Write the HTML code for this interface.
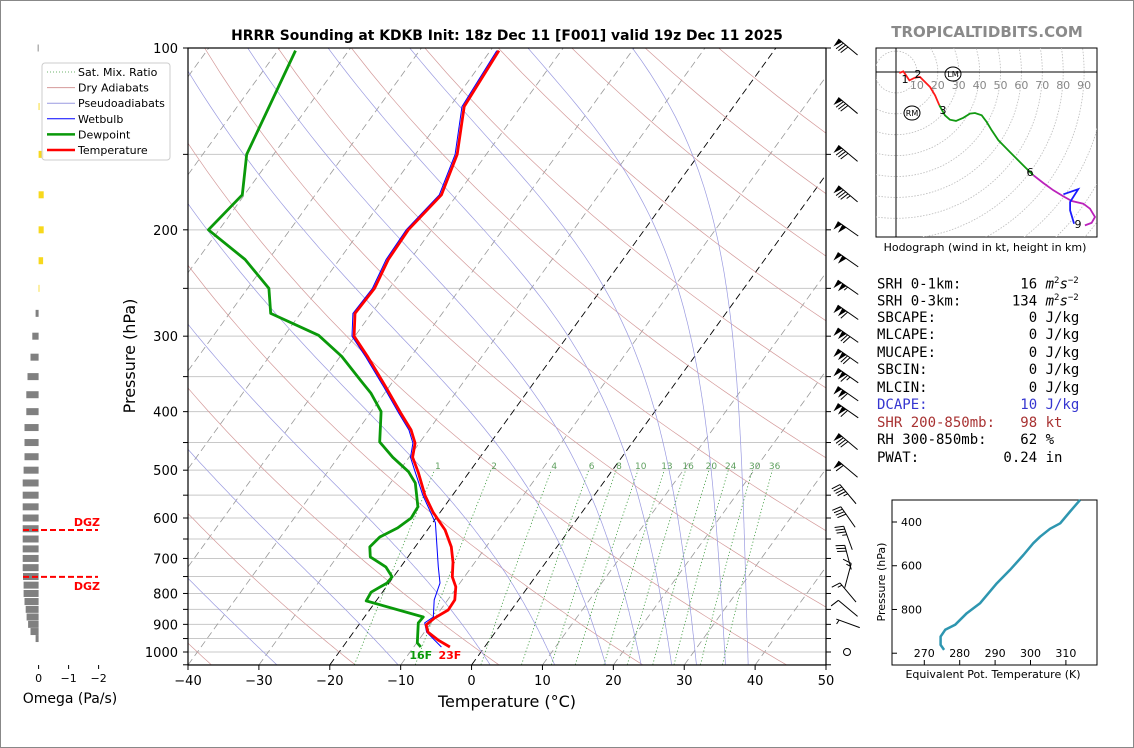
<!DOCTYPE html>
<html><head><meta charset="utf-8">
<style>
html,body{margin:0;padding:0;background:#fff;}
body{width:1134px;height:748px;overflow:hidden;position:relative;}
#frame{position:absolute;left:0;top:0;width:1132px;height:746px;border:1px solid #888;}
svg{position:absolute;left:0;top:0;}
.stats{position:absolute;left:877px;font-family:"DejaVu Sans Mono","Liberation Mono",monospace;font-size:14px;white-space:pre;color:#000;line-height:16px;}
</style></head>
<body>
<div id="frame"></div>
<svg id="chart" width="1134" height="748" viewBox="0 0 1134 748" font-family="'DejaVu Sans','Liberation Sans',sans-serif">
 <defs>
  <clipPath id="mainclip"><rect x="188" y="48" width="638" height="617"/></clipPath>
  <clipPath id="hodoclip"><rect x="876" y="48" width="221" height="189"/></clipPath>
 </defs>
 <text x="507" y="40" text-anchor="middle" font-size="13.9" font-weight="bold">HRRR Sounding at KDKB Init: 18z Dec 11 [F001] valid 19z Dec 11 2025</text>
 <text x="987" y="37" text-anchor="middle" font-size="15" font-weight="bold" fill="#8a8a8a">TROPICALTIDBITS.COM</text>
 <text x="507" y="707" text-anchor="middle" font-size="16">Temperature (°C)</text>
 <text x="135" y="356" text-anchor="middle" font-size="16" transform="rotate(-90 135 356)">Pressure (hPa)</text>
 <text x="70" y="703" text-anchor="middle" font-size="14">Omega (Pa/s)</text>
 <g id="bg" clip-path="url(#mainclip)"></g>
 <g id="profiles" clip-path="url(#mainclip)"></g>
 <g id="axes"></g>
 <g id="omega"></g>
 <g id="barbs"></g>
 <g id="hodo"></g>
 <g id="thetae"></g>
 <g id="legend"></g>
</svg>
<div class="stats" style="top:273px">SRH 0-1km:       16 <i>m</i><sup style="font-size:9px">2</sup><i>s</i><sup style="font-size:9px">−2</sup></div>
<div class="stats" style="top:290px">SRH 0-3km:      134 <i>m</i><sup style="font-size:9px">2</sup><i>s</i><sup style="font-size:9px">−2</sup></div>
<div class="stats" style="top:310px">SBCAPE:           0 J/kg</div>
<div class="stats" style="top:327px">MLCAPE:           0 J/kg</div>
<div class="stats" style="top:345px">MUCAPE:           0 J/kg</div>
<div class="stats" style="top:362px">SBCIN:            0 J/kg</div>
<div class="stats" style="top:380px">MLCIN:            0 J/kg</div>
<div class="stats" style="top:397px;color:#3636d0">DCAPE:           10 J/kg</div>
<div class="stats" style="top:415px;color:#a83232">SHR 200-850mb:   98 kt</div>
<div class="stats" style="top:432px">RH 300-850mb:    62 %</div>
<div class="stats" style="top:450px">PWAT:          0.24 in</div>
<script>
// ---------- data ----------
const tempP=[101,125,150,175,200,224,250,275,300,325,366,402,429,451,476,505,550,587,628,670,710,751,780,820,852,878,902,927,955,981];
const tempT=[-58.8,-58.0,-54.1,-52.2,-53.3,-53.1,-52.1,-52.3,-50.1,-46.0,-40.2,-35.7,-32.5,-30.6,-29.5,-27.1,-23.9,-21.0,-17.5,-14.9,-13.1,-11.7,-10.2,-9.0,-8.9,-10.0,-10.5,-9.5,-7.3,-4.9];
const dewP=[101,150,175,200,224,250,275,299,324,355,373,400,449,476,503,525,575,600,623,645,670,696,723,751,769,796,823,875,895,966,981];
const dewT=[-87.5,-83.8,-80.3,-81.5,-73.3,-67.0,-64.2,-55.2,-49.8,-44.7,-41.9,-38.6,-35.7,-32.3,-28.6,-26.5,-23.7,-23.5,-24.4,-26.0,-26.4,-25.3,-22.1,-20.2,-20.3,-21.6,-21.4,-11.7,-11.8,-9.9,-9.0];
const wbP=[101,125,150,175,200,224,250,275,300,325,366,402,429,451,476,500,550,611,723,769,820,875,895,927,981];
const wbT=[-59.1,-58.3,-54.4,-52.5,-53.6,-53.4,-52.4,-52.6,-50.4,-46.3,-40.5,-36.0,-32.8,-30.9,-29.8,-27.9,-24.2,-19.6,-14.7,-12.8,-11.9,-10.3,-10.9,-9.7,-6.1];
const xTicks=[-40,-30,-20,-10,0,10,20,30,40,50];
const pLabels=[100,200,300,400,500,600,700,800,900,1000];
const dryT0=[-120,-100,-80,-60,-40,-20,0,20,40,60,80,100,120,140,160,180,200];
const moistT0=[-27.5,-10.4,2.6,11.7,18.9,23.9,28.2,31.7,35.8,39];
const mixW=[1,2,4,6,8,10,13,16,20,24,30,36];
const omegaP=[100,125,150,175,200,225,250,275,300,325,350,375,400,425,450,475,500,525,550,575,600,625,650,675,700,725,750,775,800,825,850,875,900,925,950];
const omegaV=[0.03,-0.03,-0.17,-0.17,-0.17,-0.15,-0.02,0.1,0.21,0.27,0.37,0.41,0.41,0.47,0.47,0.47,0.5,0.53,0.53,0.53,0.53,0.53,0.53,0.53,0.53,0.53,0.52,0.5,0.5,0.47,0.43,0.4,0.35,0.27,0.1];
const omegaTicks=[0,-1,-2];
const dgzP=[628,751];
const barbP=[100,125,150,175,200,225,250,275,300,325,350,375,400,450,500,550,600,650,700,750,800,850,900];
const barbDir=[310,310,310,310,305,305,305,305,305,305,305,305,305,310,310,320,325,340,345,15,320,310,290];
const barbSpd=[80,80,80,85,100,100,105,110,120,120,115,110,110,80,60,45,40,35,30,15,15,10,5];
const hodoRedU=[1.6,3.5,6.4,9.1,11.5,13.1,16.3,18.7,20.7];
const hodoRedV=[-0.5,0.3,-4.0,-2.7,-2.4,-4.0,-7.2,-11.2,-15.9];
const hodoGreenU=[20.7,23.4,25.8,28.7,32.2,35.4,37.8,41.0,43.4,45.8,49.0,54.5,61.7,65.7];
const hodoGreenV=[-15.9,-20.7,-22.8,-23.4,-21.9,-19.9,-19.6,-20.7,-23.9,-27.9,-32.7,-38.3,-45.5,-49.4];
const hodoMagU=[65.7,70.5,75.3,80.1,84.1,89.6,92.8,95.2,93.6,90.4];
const hodoMagV=[-49.4,-53.1,-56.6,-59.5,-61.7,-63.0,-65.4,-69.4,-72.2,-73.4];
const hodoBlueU=[80.1,87.2,83.3,83.3,85.2];
const hodoBlueV=[-58.5,-56.1,-62.2,-66.2,-72.6];
const hodoRings=[10,20,30,40,50,60,70,80,90,100,110,120];
const thetaeP=[299,352,406,431,467,497,551,619,680,771,817,870,893,924,962,985];
const thetaeV=[314.0,311.2,308.4,305.5,302.7,300.8,298.0,294.2,290.5,285.8,282.0,278.7,275.9,274.6,274.6,275.6];
const thetaeXTicks=[270,280,290,300,310];
const thetaeYTicks=[400,600,800,1000];

// ---------- helpers ----------
const NS='http://www.w3.org/2000/svg';
function mk(tag,attrs,parent){const e=document.createElementNS(NS,tag);for(const k in attrs)e.setAttribute(k,attrs[k]);parent.appendChild(e);return e;}
function py(p){return 48+604*Math.log10(p/100);}
function tx(T,p){return 188+(T+40)*7.089+(665-py(p))*0.723;}
function pts(P,T){return P.map((p,i)=>tx(T[i],p).toFixed(1)+','+py(p).toFixed(1)).join(' ');}
const bg=document.getElementById('bg');
const prof=document.getElementById('profiles');
const axes=document.getElementById('axes');

for(let p=100;p<=1050;p+=50){
  const l=mk('line',{x1:188,x2:826,y1:py(p),y2:py(p),stroke:'#c8c8c8','stroke-width':1},bg);
  
  
}
for(let t=-130;t<=50;t+=10){
  const l=mk('line',{x1:tx(t,1050),y1:py(1050),x2:tx(t,100),y2:py(100),stroke:(t===0||t===-20)?'#000':'#999','stroke-width':(t===0||t===-20)?0.9:0.8,'stroke-dasharray':'7,4'},bg);
  
  
}
dryT0.forEach(t0=>{
  const th=(t0+273.15);const P=[],T=[];
  for(let p=1050;p>=100;p-=10){P.push(p);T.push(th*Math.pow(p/1000,0.2857)-273.15);}
  const l=mk('polyline',{points:pts(P,T),fill:'none',stroke:'#d49a9a','stroke-width':0.7},bg);
  
  
});
function dTdp(T,p){const Tc=T-273.15;const es=6.112*Math.exp(17.67*Tc/(Tc+243.5));const rs=0.622*es/(p-es);
  return (287.04*T+2.501e6*rs)/(p*(1005.7+2.501e6*2.501e6*rs*0.622/(287.04*T*T)));}
moistT0.forEach(t0=>{
  let T=t0+273.15;const P=[1050],TT=[t0];
  for(let p=1050;p>100;p-=5){const k1=dTdp(T,p);const k2=dTdp(T-2.5*k1,p-2.5);T=T-5*k2;P.push(p-5);TT.push(T-273.15);}
  const l=mk('polyline',{points:pts(P,TT),fill:'none',stroke:'#9a9ae0','stroke-width':0.7},bg);
  
  
});
function tdFromW(w,p){const e=w*p/(622+w);const a=Math.log(e/6.112);return 243.5*a/(17.67-a);}
mixW.forEach(w=>{
  const P=[],T=[];for(let p=1050;p>=500;p-=10){P.push(p);T.push(tdFromW(w,p));}
  const l=mk('polyline',{points:pts(P,T),fill:'none',stroke:'#3c9a3c','stroke-width':0.8,'stroke-dasharray':'1.2,2.2'},bg);
  
  
  const t=mk('text',{x:tx(tdFromW(w,485),485),y:469,'font-size':9,fill:'#5fa05f','text-anchor':'middle'},bg);
  t.textContent=w;
  
  
});
const wb=mk('polyline',{points:pts(wbP,wbT),fill:'none',stroke:'#0000ff','stroke-width':1},prof);


const dw=mk('polyline',{points:pts(dewP,dewT),fill:'none',stroke:'#0a990a','stroke-width':2.8,'stroke-linejoin':'round'},prof);


const tl=mk('polyline',{points:pts(tempP,tempT),fill:'none',stroke:'#ff0000','stroke-width':2.8,'stroke-linejoin':'round'},prof);


const sd=mk('text',{x:tx(dewT[dewT.length-1],dewP[dewP.length-1]),y:659,'font-size':11,'font-weight':'bold',fill:'#0a990a','text-anchor':'middle'},prof);
sd.textContent=Math.round(dewT[dewT.length-1]*9/5+32)+'F';


const st=mk('text',{x:tx(tempT[tempT.length-1],tempP[tempP.length-1]),y:659,'font-size':11,'font-weight':'bold',fill:'#ff0000','text-anchor':'middle'},prof);
st.textContent=Math.round(tempT[tempT.length-1]*9/5+32)+'F';



const fr=mk('rect',{x:188,y:48,width:638,height:617,fill:'none',stroke:'#000','stroke-width':1.2},axes);


xTicks.forEach(t=>{
  const x=188+(t+40)*7.089;
  const l=mk('line',{x1:x,x2:x,y1:665,y2:670,stroke:'#000'},axes);
  
  
  const tt=mk('text',{x:x,y:685,'font-size':13,'text-anchor':'middle'},axes);
  tt.textContent=String(t).replace('-','−');
  
  
});
for(let p=100;p<=1050;p+=50){
  const l=mk('line',{x1:183,x2:188,y1:py(p),y2:py(p),stroke:'#000'},axes);
  
  
  const r=mk('line',{x1:826,x2:831,y1:py(p),y2:py(p),stroke:'#000'},axes);
  
  
}
pLabels.forEach(p=>{
  const t=mk('text',{x:178,y:py(p)+5,'font-size':13,'text-anchor':'end'},axes);
  t.textContent=p;
  
  
});

const om=document.getElementById('omega');
function ox(v){return 38.6-30*v;}
omegaP.forEach((p,i)=>{
  const v=omegaV[i];const x0=Math.min(ox(0),ox(v));const w=Math.abs(ox(v)-ox(0));
  const r=mk('rect',{x:x0,y:py(p)-3.5,width:Math.max(w,0.8),height:7,fill:v>=0?'#808080':'#f7d81c'},om);
  
  
});
omegaTicks.forEach(t=>{
  const l=mk('line',{x1:ox(t),x2:ox(t),y1:665,y2:669,stroke:'#000'},om);
  
  
  const tt=mk('text',{x:ox(t),y:682,'font-size':11,'text-anchor':'middle'},om);
  tt.textContent=String(t).replace('-','−');
  
  
});
dgzP.forEach((p,i)=>{
  const l=mk('line',{x1:23,x2:98,y1:py(p),y2:py(p),stroke:'#ff0000','stroke-width':2,'stroke-dasharray':'6,3'},om);
  
  
  const t=mk('text',{x:100,y:i===0?py(p)-4:py(p)+13,'font-size':11,'font-weight':'bold',fill:'#ff0000','text-anchor':'end'},om);
  t.textContent='DGZ';
  
  
});

const bb=document.getElementById('barbs');
barbP.forEach((p,i)=>{
  const d=barbDir[i]*Math.PI/180,L=25;const vx=Math.sin(d),vy=-Math.cos(d);const nx=vy,ny=-vx;
  const cx=848,cy=py(p)-1;
  const ax=cx-vx*L/2,ay=cy-vy*L/2,bx=cx+vx*L/2,by=cy+vy*L/2;
  const g=mk('g',{},bb);
  
  
  mk('line',{x1:ax,y1:ay,x2:bx,y2:by,stroke:'#000','stroke-width':1},g);
  let s=Math.round(barbSpd[i]/5)*5;let pos=0;
  while(s>=50){const px=bx-vx*pos,pyy=by-vy*pos;
    mk('polygon',{points:[px,pyy,px+nx*9-vx*1,pyy+ny*9-vy*1,px-vx*5,pyy-vy*5].join(','),fill:'#000'},g);pos+=5.5;s-=50;}
  if(pos>0)pos+=1;
  while(s>=10){const px=bx-vx*pos,pyy=by-vy*pos;
    mk('line',{x1:px,y1:pyy,x2:px+nx*9+vx*2,y2:pyy+ny*9+vy*2,stroke:'#000','stroke-width':1},g);pos+=3;s-=10;}
  if(s>=5){if(pos===0)pos=3;const px=bx-vx*pos,pyy=by-vy*pos;
    mk('line',{x1:px,y1:pyy,x2:px+nx*4.5+vx*1,y2:pyy+ny*4.5+vy*1,stroke:'#000','stroke-width':1},g);}
});
const calm=mk('circle',{cx:847,cy:py(1000),r:3.5,fill:'none',stroke:'#000'},bb);



const hd=document.getElementById('hodo');
const HX=896,HY=72,HK=2.09;
function hpts(U,V){return U.map((u,i)=>(HX+u*HK).toFixed(1)+','+(HY-V[i]*HK).toFixed(1)).join(' ');}
const hbox=mk('rect',{x:876,y:48,width:221,height:189,fill:'#fff',stroke:'#000','stroke-width':1},hd);


const hg=mk('g',{'clip-path':'url(#hodoclip)'},hd);
hodoRings.forEach(r=>{
  const c=mk('circle',{cx:HX,cy:HY,r:r*HK,fill:'none',stroke:'#bbb','stroke-width':0.8,'stroke-dasharray':'1.5,1.5'},hg);
  
  
  if(r<100){const t=mk('text',{x:HX+r*HK,y:89,'font-size':11,fill:'#888','text-anchor':'middle'},hg);
    t.textContent=r;
    
    }
});
mk('line',{x1:876,x2:1097,y1:HY,y2:HY,stroke:'#000','stroke-width':1},hg);
mk('line',{x1:HX,x2:HX,y1:48,y2:237,stroke:'#000','stroke-width':1},hg);
[[hodoRedU,hodoRedV,'#ff1a1a','hodograph-0-3km'],[hodoGreenU,hodoGreenV,'#119911','hodograph-3-6km'],[hodoMagU,hodoMagV,'#bb22bb','hodograph-6-9km'],[hodoBlueU,hodoBlueV,'#1a1aff','hodograph-9km-plus']].forEach(s=>{
  const l=mk('polyline',{points:hpts(s[0],s[1]),fill:'none',stroke:s[2],'stroke-width':1.8},hg);
  
  
});
[['1',905,83],['2',918,78],['3',943,114],['6',1030,176],['9',1078,228]].forEach(a=>{
  const t=mk('text',{x:a[1],y:a[2],'font-size':11,'text-anchor':'middle'},hg);
  t.textContent=a[0];
  
  
});
[['LM',953,74],['RM',912,113]].forEach(a=>{
  const e=mk('ellipse',{cx:a[1],cy:a[2],rx:8,ry:7,fill:'none',stroke:'#000','stroke-width':1},hg);
  
  
  const t=mk('text',{x:a[1],y:a[2]+3,'font-size':8,'text-anchor':'middle'},hg);
  t.textContent=a[0];
  
  
});
const hc=mk('text',{x:985,y:251,'font-size':11,'text-anchor':'middle'},hd);
hc.textContent='Hodograph (wind in kt, height in km)';



const te=document.getElementById('thetae');
function ex(v){return 924.3+(v-270)*3.54;}
function ey(p){return 522+(p-400)*0.2187;}
const tb=mk('rect',{x:892,y:500,width:205,height:165,fill:'none',stroke:'#000','stroke-width':1},te);


thetaeYTicks.forEach(p=>{
  const l=mk('line',{x1:892,x2:897,y1:ey(p),y2:ey(p),stroke:'#000'},te);
  
  
  if(p<1000){const t=mk('text',{x:922,y:ey(p)+4,'font-size':11,'text-anchor':'end'},te);
    t.textContent=p;
    
    }
});
thetaeXTicks.forEach(v=>{
  const l=mk('line',{x1:ex(v),x2:ex(v),y1:665,y2:660,stroke:'#000'},te);
  
  
  const t=mk('text',{x:ex(v),y:657,'font-size':11,'text-anchor':'middle'},te);
  t.textContent=v;
  
  
});
const tl2=mk('polyline',{points:thetaeP.map((p,i)=>ex(thetaeV[i]).toFixed(1)+','+ey(p).toFixed(1)).join(' '),fill:'none',stroke:'#2e96b0','stroke-width':2.5,'stroke-linejoin':'round'},te);


const tyl=mk('text',{x:885,y:582,'font-size':11,'text-anchor':'middle',transform:'rotate(-90 885 582)'},te);
tyl.textContent='Pressure (hPa)';


const txl=mk('text',{x:993,y:678,'font-size':11,'text-anchor':'middle'},te);
txl.textContent='Equivalent Pot. Temperature (K)';



const lg=document.getElementById('legend');
const lb=mk('rect',{x:42,y:63,width:128,height:97,rx:3,fill:'#fff','fill-opacity':0.85,stroke:'#ccc'},lg);


[['Sat. Mix. Ratio','#3c9a3c',0.8,'1,2'],['Dry Adiabats','#d49a9a',1,''],['Pseudoadiabats','#9a9ae0',1,''],['Wetbulb','#0000ff',1,''],['Dewpoint','#0a990a',2.5,''],['Temperature','#ff0000',2.5,'']].forEach((e,i)=>{
  const y=72+i*15.6;
  const l=mk('line',{x1:47,x2:75,y1:y,y2:y,stroke:e[1],'stroke-width':e[2],'stroke-dasharray':e[3]},lg);
  
  
  const t=mk('text',{x:78,y:y+4,'font-size':11},lg);
  t.textContent=e[0];
  
  
});
</script>
</body></html>
